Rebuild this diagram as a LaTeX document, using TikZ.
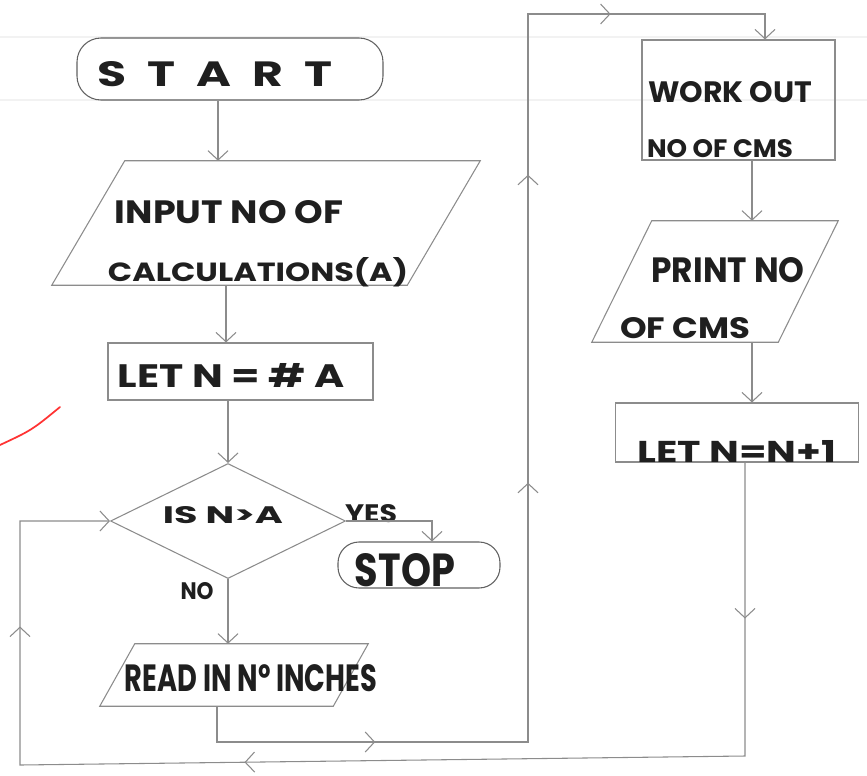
\documentclass[tikz,border=0pt]{standalone}
\usepackage{fontspec}
\setmainfont{Poppins}
\usetikzlibrary{shapes.geometric,arrows.meta,decorations.markings}

% one pixel of the drawing grid
\newlength\pxu
\setlength\pxu{0.75pt}
% hand-lettered caption squeezed into a w x h box (sizes in grid pixels)
\newcommand\lettering[3]{\resizebox{#1\pxu}{#2\pxu}{#3}}
% slanted input/output box drawn over the frame of node #1, slant #2 pixels
\newcommand\slantbox[2]{%
  \draw[ink] (#1.south west) -- ([xshift=#2\pxu]#1.north west) -- (#1.north east)
    -- ([xshift=-#2\pxu]#1.south east) -- cycle;}

\tikzset{
  ink/.style={draw=black!45, line width=0.8pt},
  box/.style={ink, rectangle, inner sep=0pt},
  term/.style={box, draw=black!62},
  frame/.style={rectangle, inner sep=0pt},
  hand/.style={inner sep=0pt, text=black!88, font=\bfseries},
  flow/.style={color=black!45, line width=0.8pt},
  ruling/.style={draw=black!5, line width=0.8pt},
  tip/.style={-{Straight Barb[length=7pt,width=15pt]}},
  midtip/.style={postaction={decorate, decoration={markings,
      mark=at position #1 with {\arrow{Straight Barb[length=7pt,width=15pt]}}}}},
}

\begin{document}
\begin{tikzpicture}[x=0.75pt,y=-0.75pt]
\useasboundingbox (0,0) rectangle (867,775);

% ---- faint ruling of the sheet ----
\draw[ruling] (0,37) -- (867,37);
\draw[ruling] (0,100) -- (867,100);

% ---- boxes ----
\node[term, minimum width=306\pxu, minimum height=62\pxu, rounded corners=24\pxu] (start) at (230,69) {};
\node[frame, minimum width=428\pxu, minimum height=124\pxu] (inp) at (266,223) {};
\slantbox{inp}{73}
\node[box, minimum width=265\pxu, minimum height=57\pxu] (let1) at (240.5,371.5) {};
\node[ink, diamond, inner sep=0pt, minimum width=235\pxu, minimum height=115\pxu] (dia) at (228,521) {};
\node[term, minimum width=162\pxu, minimum height=46\pxu, rounded corners=21\pxu] (stop) at (419,565) {};
\node[frame, minimum width=268\pxu, minimum height=62\pxu] (read) at (234,675) {};
\slantbox{read}{35}
\node[box, minimum width=193\pxu, minimum height=120\pxu] (work) at (738.5,100) {};
\node[frame, minimum width=246\pxu, minimum height=121\pxu] (print) at (715,281.5) {};
\slantbox{print}{60}
\node[box, minimum width=243\pxu, minimum height=59\pxu] (let2) at (737,432.5) {};

% ---- captions ----
\node[hand] (tstart) at (215,74) {\lettering{236}{25}{S\hspace{0.45em}T\hspace{0.45em}A\hspace{0.45em}R\hspace{0.45em}T}};
\node[hand] (tinp1) at (229,212) {\lettering{228}{23}{INPUT NO OF}};
\node[hand] (tinp2) at (258,272) {\lettering{300}{24}{CALCULATIONS(A)}};
\node[hand] (tlet1) at (231,375) {\lettering{227}{24}{LET N = \# A}};
\node[hand] (tdia) at (223,515) {\lettering{120}{17}{IS N>A}};
\node[hand] (tyes) at (371,514) {\lettering{52}{18}{YES}};
\node[hand] (tstop) at (405,570) {\lettering{100}{33}{STOP}};
\node[hand] (tno) at (197,591) {\lettering{33}{17}{NO}};
\node[hand] (tread) at (251,678) {\lettering{252}{27}{READ IN Nº INCHES}};
\node[hand] (twork1) at (730,92) {\lettering{164}{21}{WORK OUT}};
\node[hand] (twork2) at (720,149) {\lettering{146}{18}{NO OF CMS}};
\node[hand] (tprint1) at (728,270) {\lettering{153}{25}{PRINT NO}};
\node[hand] (tprint2) at (685,328) {\lettering{130}{21}{OF CMS}};
\node[hand] (tlet2) at (737,451) {\lettering{199}{22}{LET N=N+1}};

% ---- bend points of the connectors ----
\coordinate (j1) at (218,0);
\coordinate (j2) at (226,0);
\coordinate (y1) at (432,0);
\coordinate (w1) at (752,0);
\coordinate (r1) at (217,742);
\coordinate (r2) at (528,742);
\coordinate (r3) at (528,14);
\coordinate (r4) at (765,14);
\coordinate (b1) at (745,756);
\coordinate (b2) at (20,765);

% ---- connectors ----
\draw[flow, tip] (start.south -| j1) -- (inp.north -| j1);
\draw[flow, tip] (inp.south -| j2) -- (let1.north -| j2);
\draw[flow, tip] (let1.south -| dia.north) -- (dia.north);
\draw[flow, tip] (dia.east) -- (dia.east -| y1) -- (stop.north -| y1);
\draw[flow, tip] (dia.south) -- (dia.south |- read.north);
\draw[flow, tip, midtip=145.5pt, midtip=454.5pt, midtip=685.5pt, midtip=868pt]
  (read.south -| r1) -- (r1) -- (r2) -- (r3) -- (r4) -- (work.north -| r4);
\draw[flow, tip] (work.south -| w1) -- (print.north -| w1);
\draw[flow, tip] (print.south -| w1) -- (let2.north -| w1);
\draw[flow, tip, midtip=117pt, midtip=595.5pt, midtip=867.75pt]
  (let2.south -| b1) -- (b1) -- (b2) -- (b2 |- dia.west) -- (dia.west);

% ---- stray red pen stroke ----
\draw[red!80, line width=1.3pt, line cap=round] (60,407) .. controls (32,430) .. (0,445);
\end{tikzpicture}
\end{document}
